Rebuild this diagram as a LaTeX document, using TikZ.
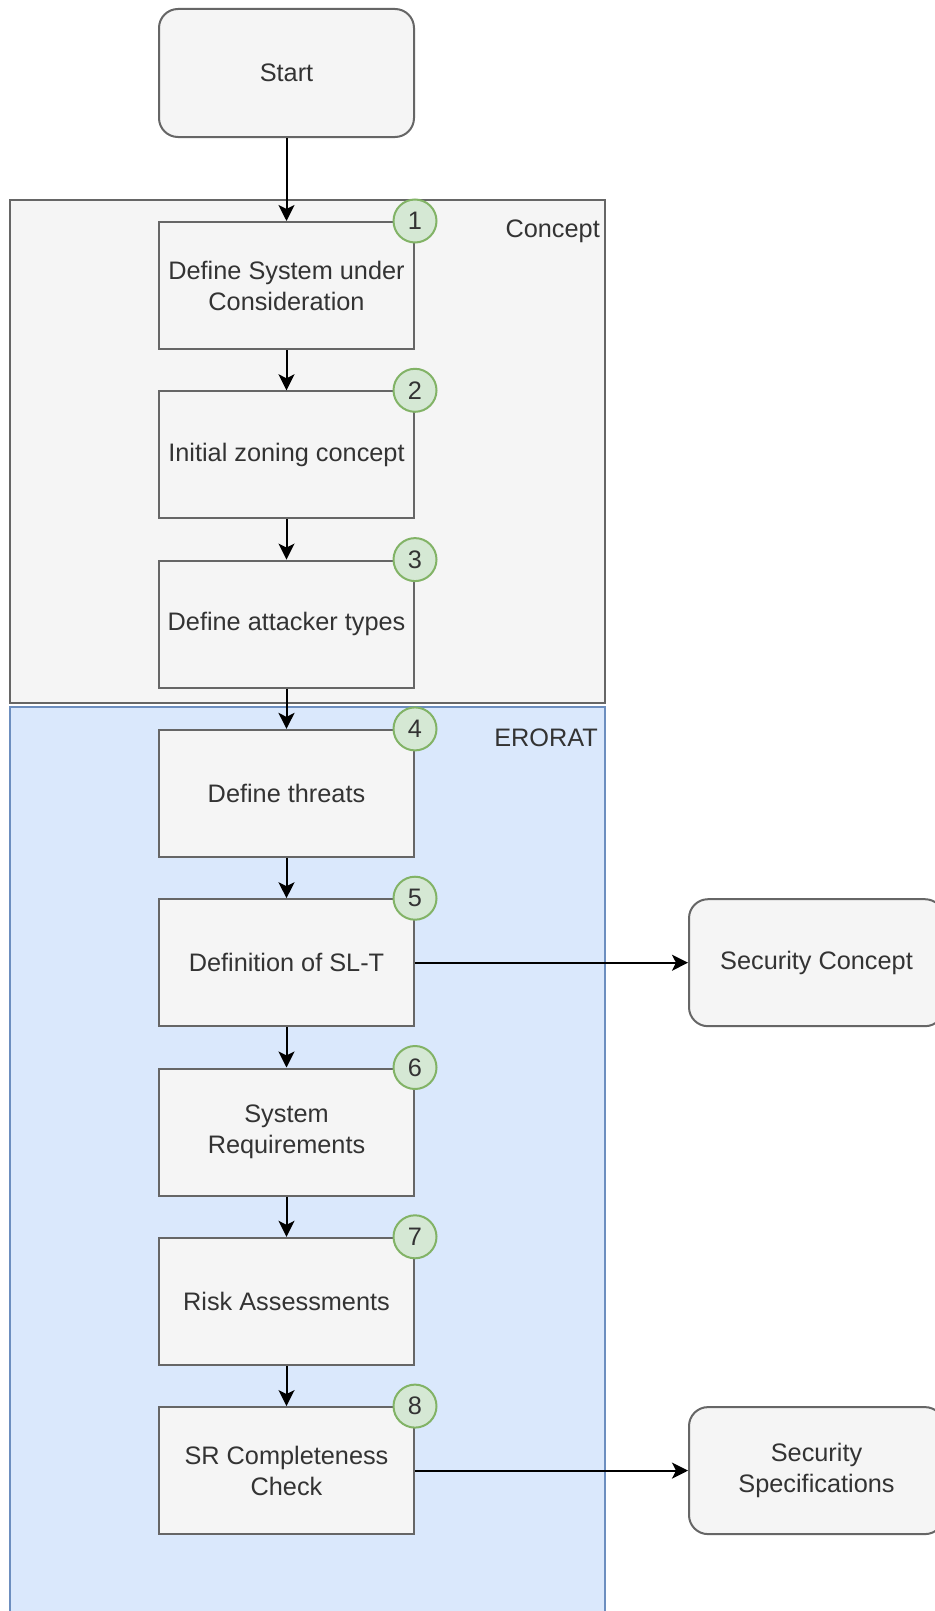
\documentclass[tikz,border=0pt]{standalone}
\usepackage{fontspec}
\setmainfont{Liberation Sans}
\usetikzlibrary{arrows.meta}
\definecolor{greyfill}{HTML}{F5F5F5}
\definecolor{greystroke}{HTML}{666666}
\definecolor{txt}{HTML}{333333}
\definecolor{bluefill}{HTML}{DAE8FC}
\definecolor{bluestroke}{HTML}{6C8EBF}
\definecolor{greenfill}{HTML}{D5E8D4}
\definecolor{greenstroke}{HTML}{82B366}
\begin{document}
\begin{tikzpicture}[x=1pt,y=-1pt,
  lbl/.style={font=\fontsize{25.3}{31}\selectfont, text=txt, align=center, inner sep=0pt},
  container/.style={draw=greystroke, fill=greyfill, line width=2pt, minimum width=595pt, inner sep=0pt},
  bluecontainer/.style={container, draw=bluestroke, fill=bluefill},
  stepbox/.style={lbl, draw=greystroke, fill=greyfill, line width=2pt, minimum width=255pt, minimum height=127pt},
  termbox/.style={stepbox, rounded corners=19pt, minimum height=128pt},
  badge/.style={circle, draw=greenstroke, fill=greenfill, line width=2pt, minimum size=43pt, inner sep=0pt, font=\fontsize{25.3}{31}\selectfont, text=txt},
  flow/.style={-{Stealth[length=16pt,width=16pt,inset=4pt]}, line width=2pt, black},
]
\useasboundingbox (0,0) rectangle (934,1611);
\fill[white] (0,0) rectangle (934,1611);

% containers
\node[container, minimum height=503pt] (concept) at (307.5,451.5) {};
\node[bluecontainer, minimum height=923pt] (erorat) at (307.5,1168.5) {};
\node[lbl, anchor=base east] (conceptlbl) at (600,237) {Concept};
\node[lbl, anchor=base east] (eroratlbl) at (598,746) {ERORAT};

% terminal boxes
\node[termbox] (start) at (286.5,73) {Start};
\node[termbox, minimum height=127pt] (secconcept) at (816.5,962.7) {Security Concept};
\node[termbox, minimum height=127pt] (secspec) at (816.5,1470.6) {Security\\Specifications};

% steps
\node[stepbox] (s1) at (286.5,285.5) {Define System under\\Consideration};
\node[stepbox] (s2) at (286.5,454.8) {Initial zoning concept};
\node[stepbox] (s3) at (286.5,624.1) {Define attacker types};
\node[stepbox] (s4) at (286.5,793.4) {Define threats};
\node[stepbox] (s5) at (286.5,962.7) {Definition of SL-T};
\node[stepbox] (s6) at (286.5,1132.0) {System\\Requirements};
\node[stepbox] (s7) at (286.5,1301.3) {Risk Assessments};
\node[stepbox] (s8) at (286.5,1470.6) {SR Completeness\\Check};

% connectors
\draw[flow] (start) -- (s1);
\draw[flow] (s1) -- (s2);
\draw[flow] (s2) -- (s3);
\draw[flow] (s3) -- (s4);
\draw[flow] (s4) -- (s5);
\draw[flow] (s5) -- (s6);
\draw[flow] (s6) -- (s7);
\draw[flow] (s7) -- (s8);
\draw[flow] (s5) -- (secconcept);
\draw[flow] (s8) -- (secspec);

% badges
\node[badge] (b1) at (s1.north east) {1};
\node[badge] (b2) at (s2.north east) {2};
\node[badge] (b3) at (s3.north east) {3};
\node[badge] (b4) at (s4.north east) {4};
\node[badge] (b5) at (s5.north east) {5};
\node[badge] (b6) at (s6.north east) {6};
\node[badge] (b7) at (s7.north east) {7};
\node[badge] (b8) at (s8.north east) {8};
\end{tikzpicture}
\end{document}
